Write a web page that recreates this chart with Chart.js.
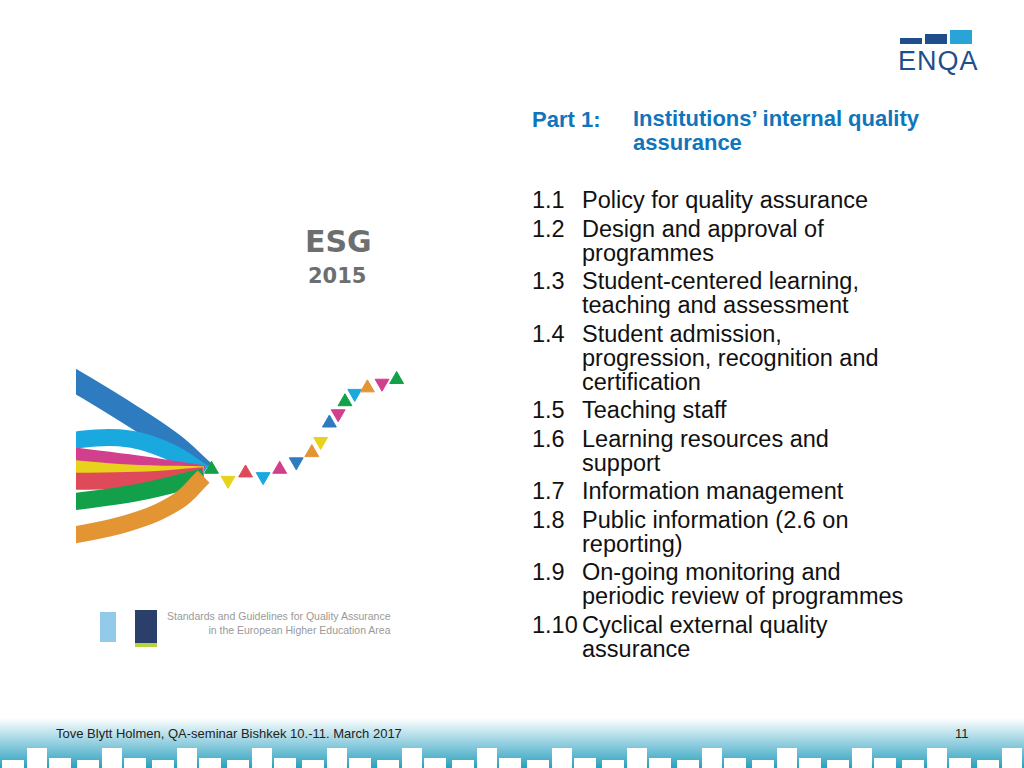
<!DOCTYPE html>
<html><head><meta charset="utf-8">
<script src="https://cdn.jsdelivr.net/npm/chart.js@4"></script>
<style>
body{margin:0;width:1024px;height:768px;position:relative;background:#fff;font-family:"Liberation Sans",Arial,sans-serif;overflow:hidden}
.a{position:absolute}
#list div{position:relative;padding-left:50px;font-size:23.5px;line-height:24px;color:#111;margin-bottom:4.5px}
#list span{position:absolute;left:0}
</style></head><body>
<div class="a" style="left:900px;top:38px;width:22px;height:6px;background:#1f4e8c"></div>
<div class="a" style="left:925px;top:34px;width:22px;height:10px;background:#1f4e8c"></div>
<div class="a" style="left:950px;top:30px;width:22px;height:14px;background:#2aa3d8"></div>
<div class="a" style="left:898px;top:46px;font-size:27px;color:#1f4e8c;letter-spacing:1px">ENQA</div>
<div class="a" style="left:305px;top:224px;font:bold 30px 'DejaVu Sans';color:#6d6e70">ESG</div>
<div class="a" style="left:308px;top:264px;font:bold 21px 'DejaVu Sans';color:#6d6e70">2015</div>
<div class="a" style="left:100px;top:612px;width:16px;height:30px;background:#4aa6da;opacity:.6"></div>
<div class="a" style="left:135px;top:610px;width:22px;height:33px;background:#2a3f6a;border-bottom:4px solid #b8d43a"></div>
<div class="a" style="left:167px;top:609px;font-size:10.5px;line-height:14px;color:#999;text-align:right">Standards and Guidelines for Quality Assurance<br>in the European Higher Education Area</div>
<div class="a" style="left:532px;top:107px;font-weight:bold;font-size:22px;color:#0f75bc">Part 1:</div>
<div class="a" style="left:633px;top:107px;font-weight:bold;font-size:22px;line-height:24px;color:#0f75bc">Institutions’ internal quality<br>assurance</div>
<div id="list" class="a" style="left:532px;top:188px;width:440px"></div>
<canvas id="c" class="a" style="left:67px;top:340px"></canvas>
<div class="a" style="left:0;top:718px;width:1024px;height:50px;background:linear-gradient(#fff,#7fc6d9 60%,#2aa0bd)"></div>
<div id="blocks" class="a" style="left:0;top:748px;width:1024px;height:20px"></div>
<div class="a" style="left:56px;top:726px;font-size:13px;color:#222">Tove Blytt Holmen, QA-seminar Bishkek 10.-11. March 2017</div>
<div class="a" style="left:955px;top:726px;font-size:13px;color:#222">11</div>
<script>
const itemNums = ["1.1","1.2","1.3","1.4","1.5","1.6","1.7","1.8","1.9","1.10"];
const itemTexts = ["Policy for quality assurance","Design and approval of<br>programmes","Student-centered learning,<br>teaching and assessment","Student admission,<br>progression, recognition and<br>certification","Teaching staff","Learning resources and<br>support","Information management","Public information (2.6 on<br>reporting)","On-going monitoring and<br>periodic review of programmes","Cyclical external quality<br>assurance"];
document.getElementById("list").innerHTML = itemNums.map((n,i)=>`<div><span>${n}</span>${itemTexts[i]}</div>`).join("");

// footer block pattern
let b = "";
for (let x = 0; x < 1024; x += 75) {
  b += `<div class="a" style="left:${x+2}px;top:12px;width:22px;height:8px;background:#fff"></div>`;
  b += `<div class="a" style="left:${x+27}px;top:0;width:20px;height:20px;background:#fff"></div>`;
  b += `<div class="a" style="left:${x+49}px;top:10px;width:22px;height:10px;background:#fff"></div>`;
}
document.getElementById("blocks").innerHTML = b;

// ribbon centerlines (page px)
const ribbonColors = ["#2e7bbf","#1aa9de","#d23f8c","#e8d21b","#df4a5a","#12a14a","#e39534"];
const ribbonX = [[60,130,175,207],[60,120,170,207],[60,130,207],[60,130,207],[60,140,207],[60,140,207],[60,130,180,207]];
const ribbonY = [[365,410,442,472],[440,436,450,474],[454,463,475],[468,474,476],[483,482,477],[507,495,478],[544,528,505,478]];
const triX = [215,232,250,268,285,302,318,327,336,345,352,362,375,390,405];
const triY = [470,482,474,478,470,462,452,440,420,410,397,388,382,377,373];
const triColors = ["#12a14a","#e8d21b","#df4a5a","#1aa9de","#d23f8c","#2e7bbf","#e39534","#e8d21b","#2e7bbf","#d23f8c","#12a14a","#1aa9de","#e39534","#d23f8c","#12a14a"];

const datasets = ribbonX.map((xs,i)=>({
  data: xs.map((x,j)=>({x, y: ribbonY[i][j]})),
  showLine: true, borderColor: ribbonColors[i], borderWidth: i===0?22:17,
  tension: 0.4, pointRadius: 0, order: 7-i
}));
datasets.push({
  data: triX.map((x,j)=>({x, y: triY[j]})),
  pointStyle: "triangle", pointRadius: 8, rotation: triX.map((x,j)=>j%2?180:0),
  backgroundColor: triColors, borderColor: triColors, order: -1
});
const cv = document.getElementById("c");
cv.width = 363; cv.height = 240;
new Chart(cv, {
  type: "scatter",
  data: { datasets },
  options: {
    responsive: false, animation: false,
    layout: { padding: 0 },
    plugins: { legend: { display: false }, tooltip: { enabled: false } },
    scales: {
      x: { type: "linear", min: 76, max: 430, display: false },
      y: { type: "linear", min: 340, max: 580, reverse: true, display: false }
    }
  }
});
</script>
</body></html>
